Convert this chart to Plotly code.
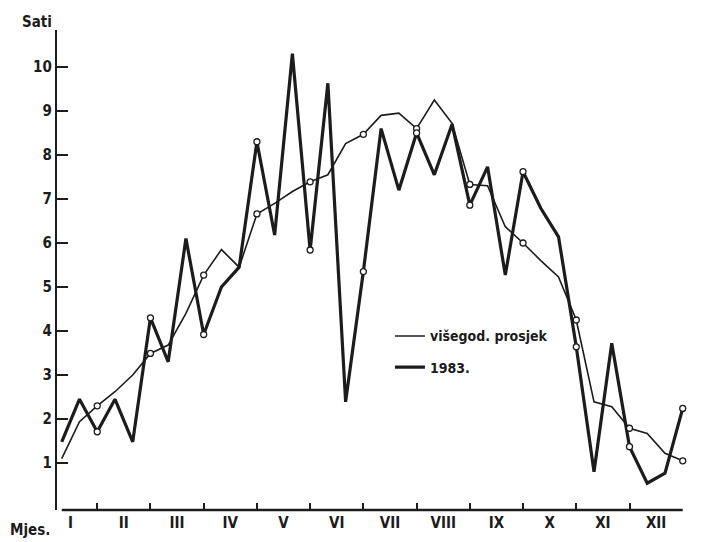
import plotly.graph_objects as go

# decade index (3 ten-day periods per month)
decades = list(range(1, 37))
month_labels = ["I", "II", "III", "IV", "V", "VI", "VII", "VIII", "IX", "X", "XI", "XII"]
month_centers = [1.5 + 3 * k for k in range(12)]
month_bounds = [3 * k for k in range(1, 12)]
y_ticks = list(range(1, 11))

# multi-year average (višegod. prosjek)
avg = [1.10, 1.94, 2.30, 2.62, 3.00, 3.49, 3.68, 4.40, 5.27, 5.85, 5.45, 6.66,
       6.90, 7.17, 7.39, 7.55, 8.26, 8.47, 8.90, 8.95, 8.60, 9.25, 8.72, 7.33,
       7.30, 6.37, 6.00, 5.60, 5.23, 4.25, 2.39, 2.28, 1.79, 1.67, 1.22, 1.05]

# year 1983
y1983 = [1.48, 2.45, 1.71, 2.45, 1.48, 4.30, 3.30, 6.10, 3.92, 5.00, 5.45, 8.30,
         6.18, 10.30, 5.84, 9.63, 2.39, 5.35, 8.60, 7.20, 8.50, 7.55, 8.70, 6.86,
         7.73, 5.27, 7.62, 6.79, 6.14, 3.64, 0.80, 3.72, 1.37, 0.54, 0.77, 2.24]

INK = "#1c1c1c"
FONT = "DejaVu Sans Condensed, Liberation Sans Narrow, DejaVu Sans, sans-serif"

fig = go.Figure()

fig.add_trace(go.Scatter(x=decades, y=avg, mode="lines", name="višegod. prosjek",
                         line=dict(color=INK, width=1.6), legendgroup="a"))
fig.add_trace(go.Scatter(x=decades, y=y1983, mode="lines", name="1983.",
                         line=dict(color=INK, width=3.2), legendgroup="b"))
# open circles at month ends
fig.add_trace(go.Scatter(x=decades[2::3], y=avg[2::3], mode="markers", showlegend=False,
                         marker=dict(symbol="circle", size=6, color="white",
                                     line=dict(color=INK, width=1.3))))
fig.add_trace(go.Scatter(x=decades[2::3], y=y1983[2::3], mode="markers", showlegend=False,
                         marker=dict(symbol="circle", size=6, color="white",
                                     line=dict(color=INK, width=1.3))))
# dummy trace for second x axis (tick marks at month boundaries)
fig.add_trace(go.Scatter(x=[decades[0]], y=[avg[0]], xaxis="x2", mode="markers",
                         marker=dict(size=1, opacity=0), showlegend=False, hoverinfo="skip"))

xr = [0.733, 36.41]
fig.update_layout(
    width=695, height=534, autosize=False,
    margin=dict(l=49, r=13, t=22, b=32),
    paper_bgcolor="white", plot_bgcolor="white",
    font=dict(family=FONT, color=INK, size=15, weight="bold"),
    xaxis=dict(range=xr, tickvals=month_centers, ticktext=month_labels, ticks="",
               showline=False, showgrid=False, zeroline=False, automargin=False,
               ticklabelstandoff=2,
               tickfont=dict(size=15, family=FONT, weight="bold")),
    xaxis2=dict(range=xr, overlaying="x", anchor="y", side="bottom",
                tickvals=month_bounds, ticks="inside", ticklen=7, tickwidth=2,
                tickcolor=INK, showticklabels=False, showline=False, automargin=False,
                showgrid=False, zeroline=False),
    yaxis=dict(range=[-0.068, 10.84], tickvals=y_ticks, ticks="inside", ticklen=11,
               tickwidth=2, tickcolor=INK, showline=True, linewidth=2.2, linecolor=INK,
               showgrid=False, zeroline=False, automargin=False,
               tickfont=dict(size=15, family=FONT, weight="bold")),
    legend=dict(x=0.526, y=0.395, xanchor="left", yanchor="top",
                bgcolor="rgba(0,0,0,0)", tracegroupgap=10, itemwidth=30,
                font=dict(size=14, family=FONT, weight="bold")),
    showlegend=True,
)

# baseline of the x axis (from first to last decade)
fig.add_shape(type="line", xref="x", yref="paper", x0=decades[0], x1=decades[-1],
              y0=0, y1=0, line=dict(color=INK, width=2.5))
# page edge visible on the scan
fig.add_shape(type="line", xref="paper", yref="paper", x0=1.011, x1=1.011,
              y0=-0.04, y1=0.86, line=dict(color=INK, width=2.5))

fig.add_annotation(text="Sati", xref="paper", yref="paper", x=-0.058, y=1.017,
                   xanchor="left", yanchor="middle", showarrow=False,
                   font=dict(size=15, family=FONT, weight="bold"))
fig.add_annotation(text="Mjes.", xref="paper", yref="paper", x=-0.077, y=-0.042,
                   xanchor="left", yanchor="middle", showarrow=False,
                   font=dict(size=15, family=FONT, weight="bold"))

fig.write_html("out.html")
